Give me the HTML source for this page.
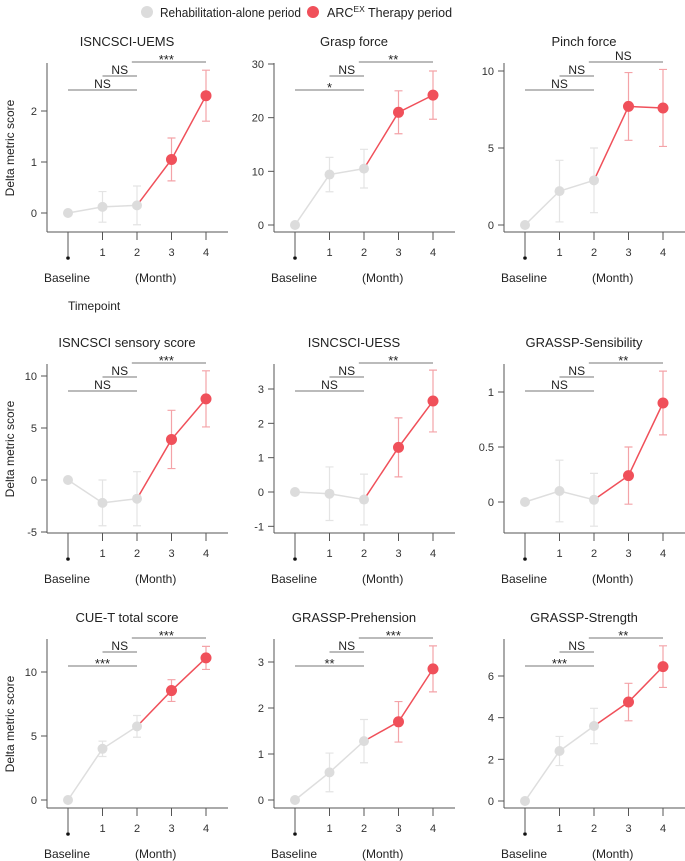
<!DOCTYPE html>
<html><head><meta charset="utf-8">
<style>
body{margin:0;background:#fff;}
svg{display:block;font-family:"Liberation Sans",sans-serif;}
</style></head>
<body>
<svg id="fig" width="685" height="861" viewBox="0 0 685 861">
  <g>
    <circle cx="147" cy="12" r="6" fill="#dcdcdc"/>
    <text x="160" y="17" font-size="12.5" fill="#222" textLength="141" lengthAdjust="spacingAndGlyphs">Rehabilitation-alone period</text>
    <circle cx="313" cy="12" r="6" fill="#f0505a"/>
    <text x="327" y="17" font-size="12.5" fill="#222">ARC<tspan font-size="8.5" dy="-5">EX</tspan><tspan dy="5"> Therapy period</tspan></text>
  </g>
</svg>
<script>
const titles=["ISNCSCI-UEMS","Grasp force","Pinch force","ISNCSCI sensory score","ISNCSCI-UESS","GRASSP-Sensibility","CUE-T total score","GRASSP-Prehension","GRASSP-Strength"];
const timepoints=[0,1,2,3,4];
const tickLabelsX=["","1","2","3","4"];
const means=[
 [0,0.12,0.15,1.05,2.3],
 [0,9.4,10.5,21,24.2],
 [0,2.2,2.9,7.7,7.6],
 [0,-2.2,-1.8,3.9,7.8],
 [0,-0.05,-0.22,1.3,2.65],
 [0,0.1,0.02,0.24,0.9],
 [0,4,5.75,8.55,11.1],
 [0,0.6,1.28,1.7,2.85],
 [0,2.4,3.6,4.75,6.45]];
const errs=[
 [0,0.3,0.38,0.42,0.5],
 [0,3.2,3.6,4,4.5],
 [0,2,2.1,2.2,2.5],
 [0,2.2,2.6,2.8,2.7],
 [0,0.78,0.74,0.86,0.9],
 [0,0.28,0.24,0.26,0.29],
 [0,0.6,0.85,0.85,0.9],
 [0,0.42,0.47,0.44,0.5],
 [0,0.7,0.85,0.9,1.0]];
const yTicks=[[0,1,2],[0,10,20,30],[0,5,10],[-5,0,5,10],[-1,0,1,2,3],[0,0.5,1],[0,5,10],[0,1,2,3],[0,2,4,6]];
const sigLabels=[["NS","NS","***"],["*","NS","**"],["NS","NS","NS"],["NS","NS","***"],["NS","NS","**"],["NS","NS","**"],["***","NS","***"],["**","NS","***"],["***","NS","**"]];
// pixel calibration: [y of value a, value a, y of value b, value b] relative to row origin
const calib=[[213,0,111,2],[225,0,64,30],[225,0,71,10],[179,0,75,10],[191,0,88,3],[201,0,91,1],[224,0,96,10],[224,0,86,3],[225,0,100,6]];
const colX=[47,274,504], rowY=[0,301,576];
const NS="http://www.w3.org/2000/svg";
const svg=document.getElementById('fig');
function mk(tag,attrs,parent){const e=document.createElementNS(NS,tag);for(const k in attrs)e.setAttribute(k,attrs[k]);parent.appendChild(e);return e;}
for(let p=0;p<9;p++){
  const ax=colX[p%3], oy=rowY[Math.floor(p/3)];
  const g=mk('g',{},svg);
  
  
  const c=calib[p];
  const ys=v=>oy+c[0]+(v-c[1])*(c[2]-c[0])/(c[3]-c[1]);
  const xs=t=>ax+21+t*34.5;
  const t=mk('text',{x:ax+80,y:oy+46,'font-size':13,'text-anchor':'middle',fill:'#222'},g);t.textContent=titles[p];
  
  
  const yA=mk('line',{x1:ax,x2:ax,y1:oy+63,y2:oy+232,stroke:'#555','stroke-width':1},g);
  
  
  const xA=mk('line',{x1:ax,x2:ax+181,y1:oy+232,y2:oy+232,stroke:'#555','stroke-width':1},g);
  
  
  yTicks[p].forEach(v=>{
    const y=ys(v);
    mk('line',{x1:ax-6,x2:ax,y1:y,y2:y,stroke:'#555'},g);
    const tl=mk('text',{x:ax-10,y:y+4,'font-size':11,'text-anchor':'end',fill:'#333'},g);tl.textContent=v;
    
    
  });
  timepoints.forEach((tp,i)=>{
    const x=xs(tp);
    mk('line',{x1:x,x2:x,y1:oy+232,y2:oy+(i==0?256:240),stroke:'#555'},g);
    if(i==0){mk('circle',{cx:x,cy:oy+258,r:1.8,fill:'#111'},g);}
    else{const tl=mk('text',{x:x,y:oy+256,'font-size':11,'text-anchor':'middle',fill:'#333'},g);tl.textContent=tickLabelsX[i];
      
      }
  });
  const b=mk('text',{x:ax-3,y:oy+282,'font-size':12,fill:'#222'},g);b.textContent='Baseline';
  
  
  const m=mk('text',{x:ax+88,y:oy+282,'font-size':12,fill:'#222'},g);m.textContent='(Month)';
  
  
  // significance brackets
  const br=[[0,2,oy+90,xs(1)],[1,2,oy+76,xs(1.5)],[1.85,4,oy+62,xs(2.85)]];
  br.forEach((s,k)=>{
    mk('line',{x1:xs(s[0]),x2:xs(s[1]),y1:s[2],y2:s[2],stroke:'#777','stroke-width':1},g);
    const st=sigLabels[p][k];
    const tl=mk('text',{x:s[3],y:s[2]-(st.indexOf('*')>=0?-2:2),'font-size':st.indexOf('*')>=0?13:12,'text-anchor':'middle',fill:'#222'},g);tl.textContent=st;
    
    
  });
  // error bars
  timepoints.forEach((tp,i)=>{
    if(errs[p][i]===0)return;
    const col=i>=3?'#f4a3a8':'#e4e4e4';
    const x=xs(tp),y1=ys(means[p][i]-errs[p][i]),y2=ys(means[p][i]+errs[p][i]);
    const e=mk('path',{d:`M${x},${y1}V${y2}M${x-4},${y1}H${x+4}M${x-4},${y2}H${x+4}`,stroke:col,'stroke-width':1.2,fill:'none'},g);
    
    
  });
  // lines
  let dG='',dR='';
  timepoints.forEach((tp,i)=>{const pt=`${xs(tp)},${ys(means[p][i])}`; if(i<=2)dG+=(i?'L':'M')+pt; if(i>=2)dR+=(i>2?'L':'M')+pt;});
  const lg=mk('path',{d:dG,stroke:'#dedede','stroke-width':1.5,fill:'none'},g);
  
  
  const lr=mk('path',{d:dR,stroke:'#f0505a','stroke-width':1.5,fill:'none'},g);
  
  
  timepoints.forEach((tp,i)=>{
    const pt=mk('circle',{cx:xs(tp),cy:ys(means[p][i]),r:i>=3?5.5:5,fill:i>=3?'#f0505a':'#dcdcdc'},g);
    
    
  });
  if(p%3==0){
    const yl=mk('text',{x:0,y:0,'font-size':12,'text-anchor':'middle',fill:'#222',transform:`translate(14,${oy+148}) rotate(-90)`},g);yl.textContent='Delta metric score';
    
    
  }
  if(p==0){
    const tp=mk('text',{x:68,y:310,'font-size':12,fill:'#222'},g);tp.textContent='Timepoint';
    
    
  }
}
</script>
</body></html>
